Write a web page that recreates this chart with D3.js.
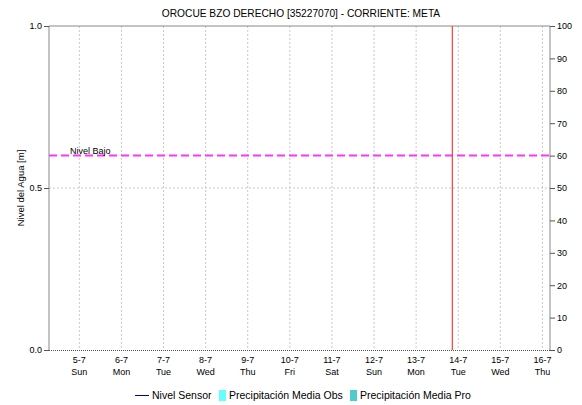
<!DOCTYPE html>
<html><head><meta charset="utf-8">
<script src="https://cdn.jsdelivr.net/npm/d3@7"></script>
<style>body{margin:0;background:#fff;} text{font-family:"Liberation Sans",Arial,sans-serif;}</style>
</head><body>
<svg id="c" width="582" height="405"></svg>
<script>
const title = "OROCUE BZO DERECHO [35227070] - CORRIENTE: META";
const dayLabels = ["5-7","6-7","7-7","8-7","9-7","10-7","11-7","12-7","13-7","14-7","15-7","16-7"];
const weekdayLabels = ["Sun","Mon","Tue","Wed","Thu","Fri","Sat","Sun","Mon","Tue","Wed","Thu"];
const dayValues = [5,6,7,8,9,10,11,12,13,14,15,16];
const xDomain = [4.28, 16.18];
const leftTicks = [0.0, 0.5, 1.0];
const rightTicks = [0,10,20,30,40,50,60,70,80,90,100];
const nivelBajo = 0.6;
const currentTime = 13.86;
const legendItems = ["Nivel Sensor","Precipitación Media Obs","Precipitación Media Pro"];

const svg = d3.select("#c");
const L=49, R=550, T=26, B=350;
const x = d3.scaleLinear().domain(xDomain).range([L,R]);
const yL = d3.scaleLinear().domain([0,1]).range([B,T]);
const yR = d3.scaleLinear().domain([0,100]).range([B,T]);

svg.append("text").attr("x",301).attr("y",17).attr("text-anchor","middle")
  .attr("font-size",10.2).attr("fill","#000").text(title);

// grid
const g = svg.append("g");
g.selectAll(".vg").data(dayValues).join("line")
  .attr("x1",d=>x(d)).attr("x2",d=>x(d)).attr("y1",T).attr("y2",B)
  .attr("stroke","#c8c8c8").attr("stroke-dasharray","2,2");
g.append("line").attr("x1",L).attr("x2",R).attr("y1",yL(0.5)).attr("y2",yL(0.5))
  .attr("stroke","#c8c8c8").attr("stroke-dasharray","2,2");

// frame
svg.append("line").attr("x1",L).attr("x2",R).attr("y1",T).attr("y2",T).attr("stroke","#888");
svg.append("line").attr("x1",L).attr("x2",L).attr("y1",T).attr("y2",B).attr("stroke","#888");
svg.append("line").attr("x1",R).attr("x2",R).attr("y1",T).attr("y2",B).attr("stroke","#888");
svg.append("line").attr("x1",L).attr("x2",R).attr("y1",B+0.5).attr("y2",B+0.5)
  .attr("stroke","#555").attr("stroke-dasharray","1,1");

// left axis
const la = svg.append("g").attr("transform",`translate(${L},0)`)
  .call(d3.axisLeft(yL).tickValues(leftTicks).tickFormat(d3.format(".1f")).tickSize(5).tickPadding(2));
la.select(".domain").remove();
la.selectAll("line").attr("stroke","#555");
la.selectAll("text").attr("font-size",9).attr("fill","#000").attr("font-family","Liberation Sans, Arial, sans-serif");

// right axis
const ra = svg.append("g").attr("transform",`translate(${R},0)`)
  .call(d3.axisRight(yR).tickValues(rightTicks).tickSize(5).tickPadding(2));
ra.select(".domain").remove();
ra.selectAll("line").attr("stroke","#555");
ra.selectAll("text").attr("font-size",9).attr("fill","#000").attr("font-family","Liberation Sans, Arial, sans-serif");

// bottom labels
const xb = svg.append("g");
dayValues.forEach((d,i)=>{
  xb.append("text").attr("x",x(d)).attr("y",363).attr("text-anchor","middle").attr("font-size",9).text(dayLabels[i]);
  xb.append("text").attr("x",x(d)).attr("y",375).attr("text-anchor","middle").attr("font-size",9).text(weekdayLabels[i]);
});

// y label
svg.append("text").attr("transform",`translate(24,${(T+B)/2}) rotate(-90)`).attr("text-anchor","middle")
  .attr("font-size",9.5).text("Nivel del Agua [m]");
// right label (clipped by the canvas edge as in the reference)
svg.append("text").attr("transform",`translate(584,${(T+B)/2}) rotate(90)`).attr("text-anchor","middle")
  .attr("font-size",9.5).text("Precipitación [mm]");

// nivel bajo
svg.append("line").attr("x1",L).attr("x2",R).attr("y1",yL(nivelBajo)).attr("y2",yL(nivelBajo))
  .attr("stroke","#ff33ff").attr("stroke-width",2).attr("stroke-dasharray","8,4");
svg.append("text").attr("x",70).attr("y",yL(nivelBajo)-2).attr("font-size",9).text("Nivel Bajo");

// current time
svg.append("line").attr("x1",x(currentTime)).attr("x2",x(currentTime)).attr("y1",T).attr("y2",B)
  .attr("stroke","#ff3b3b").attr("stroke-width",1.2);

// legend
const lg = svg.append("g");
lg.append("line").attr("x1",135).attr("x2",149).attr("y1",395.5).attr("y2",395.5).attr("stroke","#00008b").attr("stroke-width",1);
lg.append("text").attr("x",152).attr("y",399).attr("font-size",10.5).text(legendItems[0]);
lg.append("rect").attr("x",219).attr("y",390).attr("width",7).attr("height",11).attr("fill","#66ffff");
lg.append("text").attr("x",229).attr("y",399).attr("font-size",10.5).text(legendItems[1]);
lg.append("rect").attr("x",350).attr("y",390).attr("width",7).attr("height",11).attr("fill","#4ccccc");
lg.append("text").attr("x",360).attr("y",399).attr("font-size",10.5).text(legendItems[2]);
</script>
</body></html>
